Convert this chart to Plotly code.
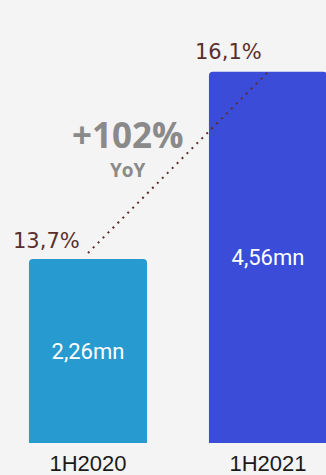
import plotly.graph_objects as go

categories = ["1H2020", "1H2021"]
values = [2.26, 4.56]
value_labels = ["2,26mn", "4,56mn"]
shares = [13.7, 16.1]
share_labels = ["13,7%", "16,1%"]
bar_colors = ["#279bcf", "#3b4cd8"]
growth_label = "+102%"
growth_sub = "YoY"

fig = go.Figure()
fig.add_trace(go.Bar(
    x=[0, 1], y=values, width=0.656,
    marker=dict(color=bar_colors, line=dict(width=0)),
    text=value_labels, textposition="inside", insidetextanchor="middle",
    textfont=dict(family="Roboto", size=22, color="white"),
    hoverinfo="skip", showlegend=False,
))
fig.add_trace(go.Scatter(
    x=[0, 1], y=shares, yaxis="y2", mode="lines",
    line=dict(color="#5b2e2e", width=2, dash="2px,5px"),
    hoverinfo="skip", showlegend=False,
))

for i, (s, lab) in enumerate(zip(shares, share_labels)):
    fig.add_annotation(x=i, y=s, xref="x", yref="y2", text=lab, showarrow=False,
                       xanchor="right", yanchor="middle",
                       xshift=-6 if i == 0 else -4, yshift=12 if i == 0 else 20,
                       font=dict(family="DejaVu Sans", size=21, color="#5b2e2e"))

fig.add_annotation(x=0.222, y=3.79, xref="x", yref="y", text="<b>" + growth_label + "</b>",
                   showarrow=False, font=dict(family="Open Sans", size=35, color="#8a8a8a"))
fig.add_annotation(x=0.222, y=3.35, xref="x", yref="y", text="<b>" + growth_sub + "</b>",
                   showarrow=False, font=dict(family="Open Sans", size=19, color="#8a8a8a"))

fig.update_layout(
    width=326, height=475,
    margin=dict(l=0, r=0, t=0, b=32, autoexpand=False),
    paper_bgcolor="#f4f4f4", plot_bgcolor="#f4f4f4",
    barcornerradius=4,
    xaxis=dict(range=[-0.4889, 1.3222], tickmode="array", tickvals=[0, 1], ticktext=categories,
               showgrid=False, zeroline=False, showline=False, ticks="", ticklabelstandoff=5,
               automargin=False,
               tickfont=dict(family="Liberation Sans", size=22, color="#1a1a1a")),
    yaxis=dict(range=[0, 5.442], visible=False, showgrid=False, automargin=False),
    yaxis2=dict(range=[11.181, 17.055], overlaying="y", visible=False, showgrid=False),
)

fig.write_html("out.html")
